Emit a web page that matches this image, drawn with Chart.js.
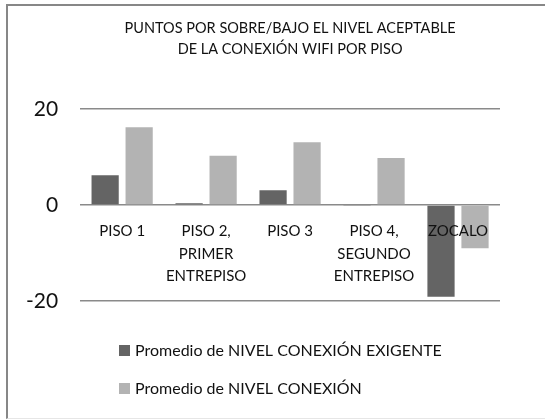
<!DOCTYPE html>
<html>
<head>
<meta charset="utf-8">
<script src="https://cdn.jsdelivr.net/npm/chart.js@4"></script>
<style>
  html, body { margin: 0; padding: 0; background: #fff; }
  #wrap { position: relative; width: 545px; height: 419px; overflow: hidden; }
  #frame {
    position: absolute; left: 6px; top: 4px; width: 600px; height: 412px;
    border-left: 2px solid #878787; border-top: 2px solid #878787;
    border-bottom: 1px solid #e6e6e6;
  }
  #wifiChart { position: absolute; left: 0; top: 0; }
</style>
</head>
<body>
<div id="wrap">
  <div id="frame"></div>
  <canvas id="wifiChart" width="545" height="419"></canvas>
</div>
<script>
// pisos del edificio (etiquetas en varias lineas)
const pisos = [
    ['PISO 1'],
    ['PISO 2,', 'PRIMER', 'ENTREPISO'],
    ['PISO 3'],
    ['PISO 4,', 'SEGUNDO', 'ENTREPISO'],
    ['ZOCALO']
];
// puntos sobre/bajo el nivel aceptable
const nivelExigente = [6.2, 0.35, 3.1, -0.2, -19.1];
const nivelConexion = [16.2, 10.25, 13.1, 9.8, -9.0];
const serieNombres = ['Promedio de NIVEL CONEXIÓN EXIGENTE', 'Promedio de NIVEL CONEXIÓN'];
const ejeY = [-20, 0, 20];

const fontFam = 'Lato, "Open Sans", sans-serif';

// leyenda vertical debajo del grafico
const stackedLegend = {
    id: 'stackedLegend',
    afterDraw(chart) {
        const ctx = chart.ctx;
        ctx.save();
        ctx.font = '16px ' + fontFam;
        ctx.textBaseline = 'middle';
        chart.data.datasets.forEach((ds, i) => {
            const y = 350 + i * 38;
            ctx.fillStyle = ds.backgroundColor;
            ctx.fillRect(119, y - 5, 11, 11);
            ctx.fillStyle = '#111';
            ctx.fillText(ds.label, 135, y + 1);
        });
        ctx.restore();
    }
};

const ctx = document.getElementById('wifiChart').getContext('2d');
const wifiChart = new Chart(ctx, {
    type: 'bar',
    data: {
        labels: pisos,
        datasets: [{
            label: serieNombres[0],
            data: nivelExigente,
            backgroundColor: '#646464'
        }, {
            label: serieNombres[1],
            data: nivelConexion,
            backgroundColor: '#b3b3b3'
        }]
    },
    options: {
        responsive: false,
        animation: false,
        categoryPercentage: 0.81,
        barPercentage: 0.8,
        layout: {
            padding: { left: 4, right: 45, top: 18, bottom: 118 }
        },
        plugins: {
            legend: { display: false },
            tooltip: { enabled: false },
            title: {
                display: true,
                fullSize: false,
                text: ['PUNTOS POR SOBRE/BAJO EL NIVEL ACEPTABLE', 'DE LA CONEXIÓN WIFI POR PISO'],
                color: '#111',
                font: { family: fontFam, size: 14.5, weight: 'normal', lineHeight: 1.45 },
                padding: { top: 0, bottom: 49 }
            }
        },
        scales: {
            x: {
                position: { y: 0 },
                grid: { display: false, drawTicks: false },
                border: { display: false },
                ticks: {
                    z: 1,
                    color: '#111',
                    padding: 15,
                    maxRotation: 0,
                    autoSkip: false,
                    font: { family: fontFam, size: 15, lineHeight: 1.5 }
                }
            },
            y: {
                min: ejeY[0],
                max: ejeY[2],
                grid: { color: '#8a8a8a', lineWidth: 1.5, drawTicks: false },
                border: { display: false },
                ticks: {
                    stepSize: 20,
                    padding: 22,
                    color: '#111',
                    font: { family: fontFam, size: 21 }
                }
            }
        }
    },
    plugins: [stackedLegend]
});
</script>
</body>
</html>
